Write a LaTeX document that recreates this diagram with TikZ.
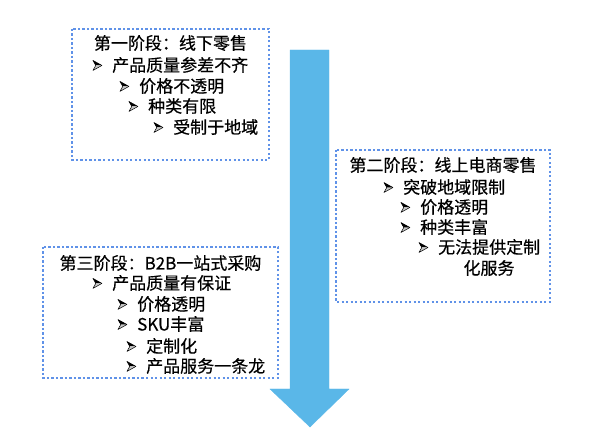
\documentclass[tikz,border=0pt]{standalone}
\usepackage{fontspec}
\setmainfont{Noto Sans CJK SC}[FakeBold=0.4]
\definecolor{dotblue}{RGB}{96,146,232}
\definecolor{flowblue}{RGB}{90,183,232}
% arrowhead bullet
\newcommand{\arrbul}{\llap{\tikz[x=1pt, y=1pt, baseline=-6pt]{
    \fill[black] (0,5) -- (9,0) -- (2.8,0) -- cycle;
    \fill[gray!45] (0,-5) -- (9,0) -- (2.8,0) -- cycle;
    \draw[black, line width=0.5pt, line join=round] (0,5) -- (9,0) -- (0,-5) -- (2.8,0) -- cycle;
}\hspace{10pt}}}
\tikzset{
    stagebox/.style={draw=dotblue, line width=2.6pt, dash pattern=on 2.4pt off 2.1pt},
    txt/.style={inner sep=0pt, anchor=west, font=\fontsize{17}{20}\selectfont},
    heading/.style={inner sep=0pt, font=\fontsize{17}{20}\selectfont},
}

\begin{document}
\begin{tikzpicture}[x=1pt, y=-1pt]
    \useasboundingbox (0,0) rectangle (590,438);

    % arrow down the middle
    \filldraw[color=flowblue] (290,50) -- (329,50) -- (329,389) -- (349,389) -- (310,427) -- (270,389) -- (290,389) -- cycle;

    % stage one
    \draw[stagebox] (72,29) rectangle (269,160);
    \node[heading] (s1t) at (170.5, 43) {第一阶段：线下零售};
    \node[txt] (s1a) at (112, 65) {\arrbul 产品质量参差不齐};
    \node[txt] (s1b) at (139, 86) {\arrbul 价格不透明};
    \node[txt] (s1c) at (148, 106) {\arrbul 种类有限};
    \node[txt] (s1d) at (173, 127) {\arrbul 受制于地域};

    % stage two
    \draw[stagebox] (336,150) rectangle (550,302);
    \node[heading] (s2t) at (443, 165) {第二阶段：线上电商零售};
    \node[txt] (s2a) at (403, 187) {\arrbul 突破地域限制};
    \node[txt] (s2b) at (420, 207) {\arrbul 价格透明};
    \node[txt] (s2c) at (420, 227) {\arrbul 种类丰富};
    \node[txt] (s2d) at (438, 247) {\arrbul 无法提供定制};
    \node[heading] (s2e) at (489, 268) {化服务};

    % stage three
    \draw[stagebox] (43,247) rectangle (278,378);
    \node[heading] (s3t) at (160.5, 263) {第三阶段：B2B一站式采购};
    \node[txt] (s3a) at (112, 283) {\arrbul 产品质量有保证};
    \node[txt] (s3b) at (137, 304) {\arrbul 价格透明};
    \node[txt] (s3c) at (137, 324) {\arrbul SKU丰富};
    \node[txt] (s3d) at (146, 346) {\arrbul 定制化};
    \node[txt] (s3e) at (146, 366) {\arrbul 产品服务一条龙};
\end{tikzpicture}
\end{document}
